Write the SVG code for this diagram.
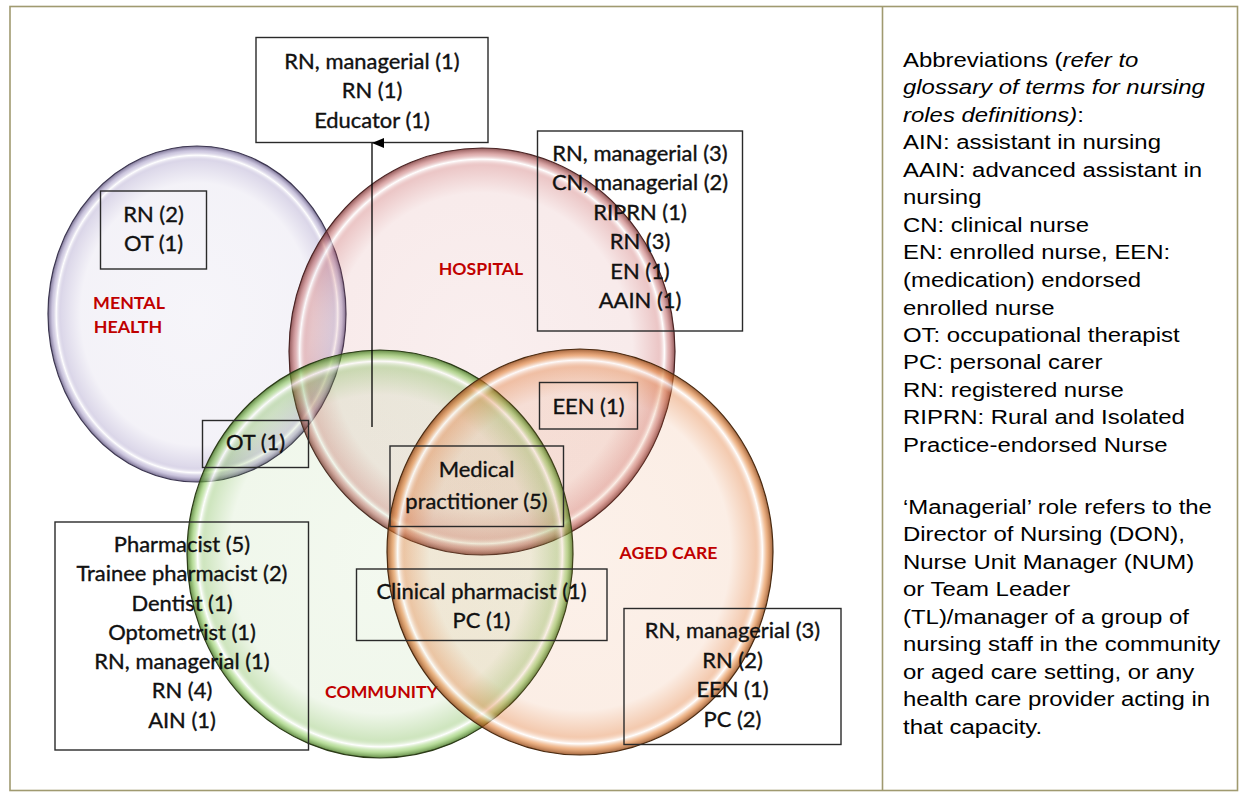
<svg xmlns="http://www.w3.org/2000/svg" width="1243" height="792" viewBox="0 0 1243 792">
<style>
.box{fill:none;stroke:#2a2a2a;stroke-width:1.4}
.t{font-family:Lato,"Open Sans","Liberation Sans",sans-serif;font-size:20.5px;fill:#111;stroke:#111;stroke-width:0.35;text-anchor:middle}
.lab{font-family:Lato,"Open Sans","Liberation Sans",sans-serif;font-size:16.5px;font-weight:bold;fill:#c00000;text-anchor:middle}
.r{font-family:"Liberation Sans",Arial,sans-serif;font-size:21px;fill:#000}
.frame{fill:none;stroke:#a09a70;stroke-width:1.6}
.circ{stroke-width:1.2}
</style>
<defs>
<radialGradient id="gMH" cx="0.5" cy="0.5" r="0.5">
<stop offset="0" stop-color="#8070b0" stop-opacity="0.07"/>
<stop offset="0.78" stop-color="#8070b0" stop-opacity="0.09"/>
<stop offset="0.91" stop-color="#8070b0" stop-opacity="0.27"/>
<stop offset="0.945" stop-color="#ffffff" stop-opacity="0.7"/>
<stop offset="0.97" stop-color="#8a7cb4" stop-opacity="0.42"/>
<stop offset="1" stop-color="#4a3f6a" stop-opacity="0.75"/>
</radialGradient>
<radialGradient id="gHO" cx="0.5" cy="0.5" r="0.5">
<stop offset="0" stop-color="#c04848" stop-opacity="0.09"/>
<stop offset="0.78" stop-color="#c04848" stop-opacity="0.11"/>
<stop offset="0.91" stop-color="#c04848" stop-opacity="0.3"/>
<stop offset="0.945" stop-color="#ffffff" stop-opacity="0.7"/>
<stop offset="0.97" stop-color="#b85050" stop-opacity="0.47"/>
<stop offset="1" stop-color="#6a2020" stop-opacity="0.75"/>
</radialGradient>
<radialGradient id="gCO" cx="0.5" cy="0.5" r="0.5">
<stop offset="0" stop-color="#6ab03a" stop-opacity="0.08"/>
<stop offset="0.78" stop-color="#6ab03a" stop-opacity="0.1"/>
<stop offset="0.91" stop-color="#6ab03a" stop-opacity="0.32"/>
<stop offset="0.945" stop-color="#ffffff" stop-opacity="0.7"/>
<stop offset="0.97" stop-color="#78c040" stop-opacity="0.5"/>
<stop offset="1" stop-color="#3a6a18" stop-opacity="0.8"/>
</radialGradient>
<radialGradient id="gAC" cx="0.5" cy="0.5" r="0.5">
<stop offset="0" stop-color="#e07028" stop-opacity="0.1"/>
<stop offset="0.78" stop-color="#e07028" stop-opacity="0.12"/>
<stop offset="0.91" stop-color="#e07028" stop-opacity="0.37"/>
<stop offset="0.945" stop-color="#ffffff" stop-opacity="0.7"/>
<stop offset="0.97" stop-color="#e07828" stop-opacity="0.55"/>
<stop offset="1" stop-color="#8a4010" stop-opacity="0.8"/>
</radialGradient>
<marker id="arr" viewBox="0 0 10 12" refX="5" refY="0" markerWidth="10" markerHeight="12" markerUnits="userSpaceOnUse" orient="auto-start-reverse">
<path d="M0,12 L5,0 L10,12 Z" fill="#000"/>
</marker>
</defs>
<rect width="1243" height="792" fill="#ffffff"/>
<g id="frame">
<rect class="frame" x="10" y="6.5" width="1227.5" height="784"/>
<line class="frame" x1="882.5" y1="6.5" x2="882.5" y2="790.5"/>
</g>

<g id="mental-health">
<ellipse class="circ" cx="197" cy="314" rx="149" ry="168" fill="url(#gMH)" stroke="#3c3650"/>
<g transform="translate(129,0) scale(1.08,1)">
<text class="lab" x="0" y="309">MENTAL</text>
<text class="lab" x="-1" y="333">HEALTH</text>
</g>
</g>
<g id="hospital">
<ellipse class="circ" cx="482" cy="351.5" rx="193" ry="203.5" fill="url(#gHO)" stroke="#4a2424"/>
<text class="lab" transform="translate(481,0) scale(1.07,1)" x="0" y="275">HOSPITAL</text>
</g>
<g id="community">
<ellipse class="circ" cx="380" cy="554" rx="193" ry="204" fill="url(#gCO)" stroke="#2c3c18"/>
<text class="lab" transform="translate(381.5,0) scale(1.07,1)" x="0" y="698">COMMUNITY</text>
</g>
<g id="aged-care">
<ellipse class="circ" cx="580" cy="552" rx="193" ry="203" fill="url(#gAC)" stroke="#4a2a10"/>
<text class="lab" transform="translate(668.5,0) scale(1.07,1)" x="0" y="559.5">AGED CARE</text>
</g>

<g id="box-top">
<rect class="box" x="256" y="37.5" width="232" height="105"/>
<g transform="translate(372,0) scale(1.07,1)">
<text class="t" x="0" y="69">RN, managerial (1)</text>
<text class="t" x="0" y="98.5">RN (1)</text>
<text class="t" x="0" y="128">Educator (1)</text>
</g>
</g>
<g id="box-mental">
<rect class="box" x="100.5" y="191" width="106" height="78"/>
<g transform="translate(153.5,0) scale(1.07,1)">
<text class="t" x="0" y="222">RN (2)</text>
<text class="t" x="0" y="251">OT (1)</text>
</g>
</g>
<g id="box-hospital">
<rect class="box" x="537.5" y="131" width="205" height="200"/>
<g transform="translate(640,0) scale(1.07,1)">
<text class="t" x="0" y="161">RN, managerial (3)</text>
<text class="t" x="0" y="190.5">CN, managerial (2)</text>
<text class="t" x="0" y="220">RIPRN (1)</text>
<text class="t" x="0" y="249.5">RN (3)</text>
<text class="t" x="0" y="279">EN (1)</text>
<text class="t" x="0" y="308.5">AAIN (1)</text>
</g>
</g>
<g id="box-een">
<rect class="box" x="539.5" y="382.5" width="98" height="46.5"/>
<text class="t" transform="translate(588.5,0) scale(1.07,1)" x="0" y="414">EEN (1)</text>
</g>
<g id="box-ot">
<rect class="box" x="202.5" y="420.5" width="106" height="47"/>
<text class="t" transform="translate(255.5,0) scale(1.07,1)" x="0" y="450.5">OT (1)</text>
</g>
<g id="box-medical">
<rect class="box" x="390" y="446" width="173.5" height="80.5"/>
<g transform="translate(476.5,0) scale(1.07,1)">
<text class="t" x="0" y="477">Medical</text>
<text class="t" x="0" y="509">practitioner (5)</text>
</g>
</g>
<g id="box-clinical">
<rect class="box" x="356.5" y="569" width="250.5" height="71.5"/>
<g transform="translate(481.5,0) scale(1.07,1)">
<text class="t" x="0" y="599">Clinical pharmacist (1)</text>
<text class="t" x="0" y="628">PC (1)</text>
</g>
</g>
<g id="box-community">
<rect class="box" x="55" y="522" width="253.5" height="228"/>
<g transform="translate(182,0) scale(1.07,1)">
<text class="t" x="0" y="552">Pharmacist (5)</text>
<text class="t" x="0" y="581.3">Trainee pharmacist (2)</text>
<text class="t" x="0" y="610.6">Dentist (1)</text>
<text class="t" x="0" y="639.9">Optometrist (1)</text>
<text class="t" x="0" y="669.2">RN, managerial (1)</text>
<text class="t" x="0" y="698.5">RN (4)</text>
<text class="t" x="0" y="727.8">AIN (1)</text>
</g>
</g>
<g id="box-aged">
<rect class="box" x="624" y="608.5" width="217" height="136"/>
<g transform="translate(732.5,0) scale(1.07,1)">
<text class="t" x="0" y="638.5">RN, managerial (3)</text>
<text class="t" x="0" y="668">RN (2)</text>
<text class="t" x="0" y="697.5">EEN (1)</text>
<text class="t" x="0" y="727">PC (2)</text>
</g>
</g>

<g id="connectors">
<line x1="372" y1="427" x2="372" y2="143" stroke="#000" stroke-width="1.3" marker-end="url(#arr)"/>
</g>

<g id="abbreviations" transform="translate(903,0) scale(1.14,1)">
<text class="r" x="0" y="67">Abbreviations (<tspan font-style="italic">refer to</tspan></text>
<text class="r" x="0" y="94.5" font-style="italic">glossary of terms for nursing</text>
<text class="r" x="0" y="122"><tspan font-style="italic">roles definitions)</tspan>:</text>
<text class="r" x="0" y="149.5">AIN: assistant in nursing</text>
<text class="r" x="0" y="177">AAIN: advanced assistant in</text>
<text class="r" x="0" y="204.5">nursing</text>
<text class="r" x="0" y="232">CN: clinical nurse</text>
<text class="r" x="0" y="259.5">EN: enrolled nurse, EEN:</text>
<text class="r" x="0" y="287">(medication) endorsed</text>
<text class="r" x="0" y="314.5">enrolled nurse</text>
<text class="r" x="0" y="342">OT: occupational therapist</text>
<text class="r" x="0" y="369.5">PC: personal carer</text>
<text class="r" x="0" y="397">RN: registered nurse</text>
<text class="r" x="0" y="424.5">RIPRN: Rural and Isolated</text>
<text class="r" x="0" y="452">Practice-endorsed Nurse</text>
<text class="r" x="0" y="514">‘Managerial’ role refers to the</text>
<text class="r" x="0" y="541.5">Director of Nursing (DON),</text>
<text class="r" x="0" y="569">Nurse Unit Manager (NUM)</text>
<text class="r" x="0" y="596.5">or Team Leader</text>
<text class="r" x="0" y="624">(TL)/manager of a group of</text>
<text class="r" x="0" y="651.5">nursing staff in the community</text>
<text class="r" x="0" y="679">or aged care setting, or any</text>
<text class="r" x="0" y="706.5">health care provider acting in</text>
<text class="r" x="0" y="734">that capacity.</text>
</g>
</svg>
